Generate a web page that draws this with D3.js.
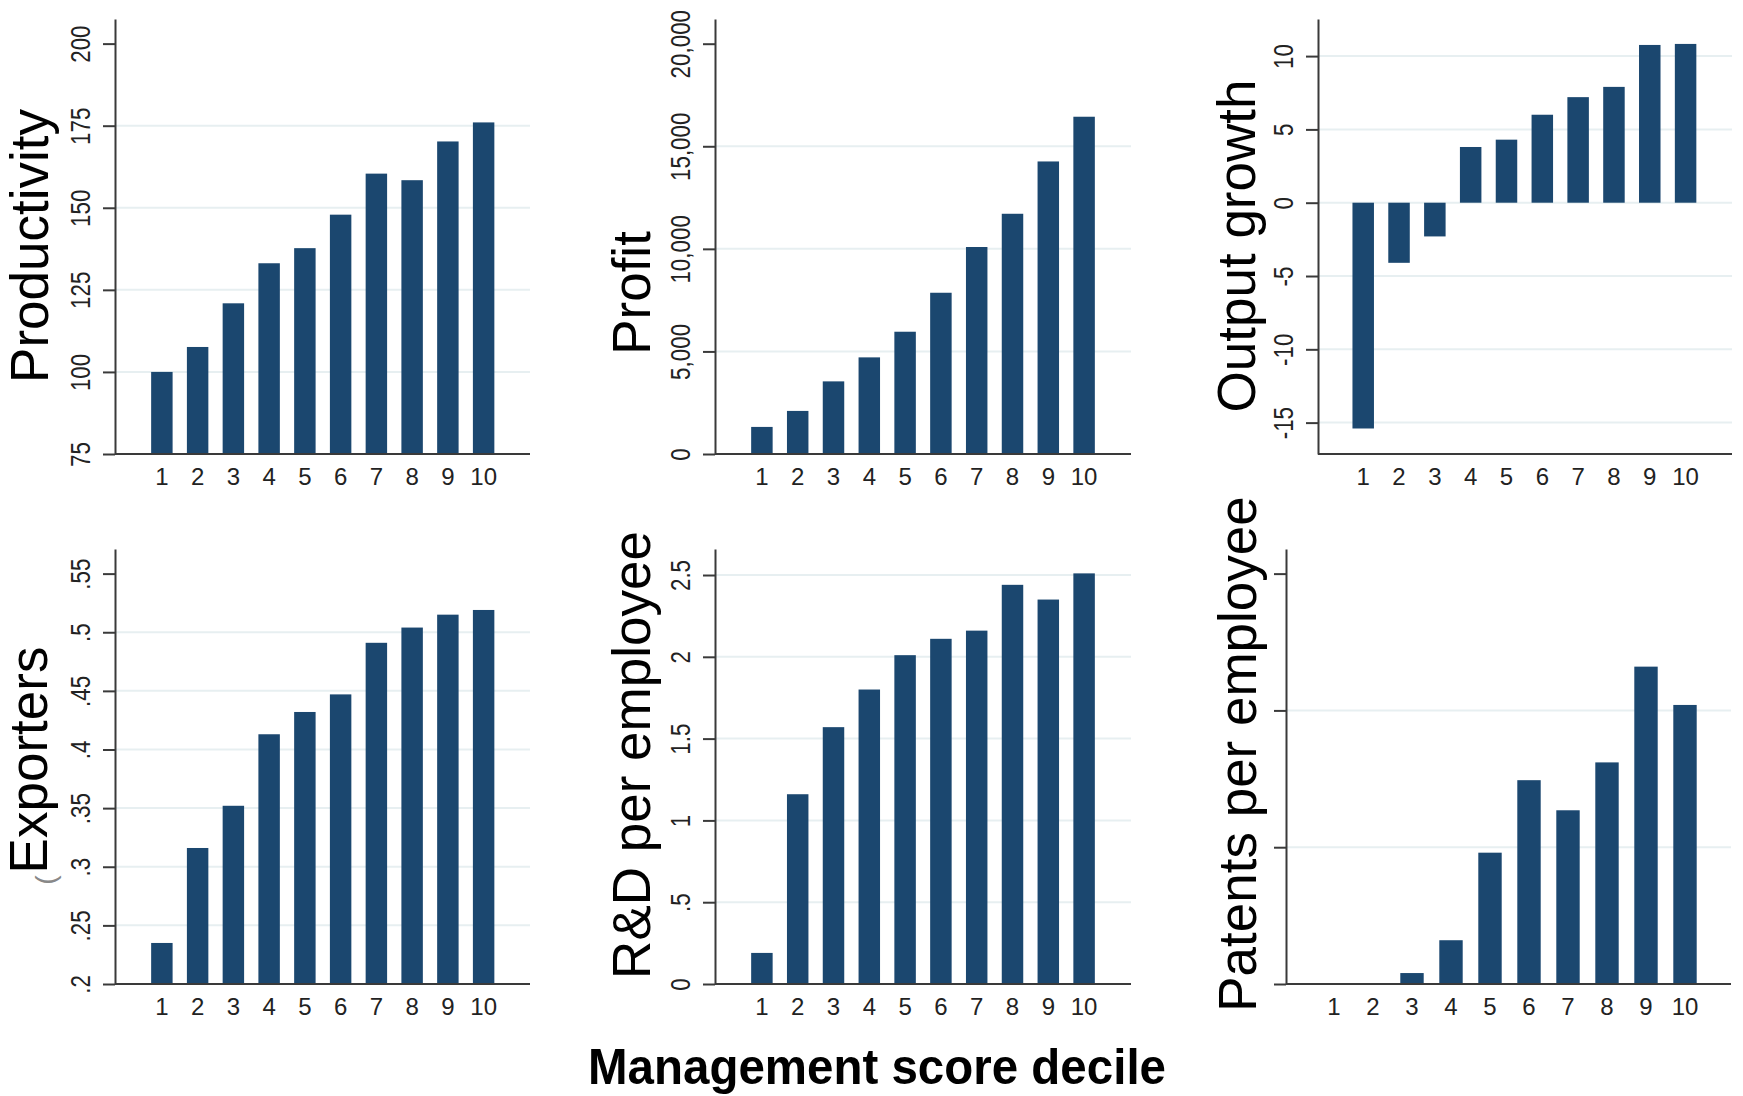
<!DOCTYPE html>
<html>
<head>
<meta charset="utf-8">
<script src="https://cdn.jsdelivr.net/npm/d3@7"></script>
<style>
  body { margin: 0; background: #fff; }
  svg text { font-family: "Liberation Sans", Arial, Helvetica, sans-serif; }
</style>
</head>
<body>
<svg id="chart" width="1743" height="1096"></svg>
<script>
// data
const deciles = [1, 2, 3, 4, 5, 6, 7, 8, 9, 10];

const productivity = [100, 107.6, 120.9, 133.1, 137.7, 147.9, 160.4, 158.4, 170.2, 176.0];
const profit = [1320, 2100, 3540, 4710, 5960, 7860, 10090, 11710, 14260, 16440];
const outputGrowth = [-15.4, -4.1, -2.3, 3.8, 4.3, 6.0, 7.2, 7.9, 10.76, 10.83];
const exporters = [0.235, 0.316, 0.352, 0.413, 0.432, 0.447, 0.491, 0.504, 0.515, 0.519];
const rdPerEmployee = [0.19, 1.16, 1.57, 1.80, 2.01, 2.11, 2.16, 2.44, 2.35, 2.51];
const patentsPerEmployee = [0, 0, 0.08, 0.32, 0.96, 1.49, 1.27, 1.62, 2.32, 2.04];

const productivityTicks = [75, 100, 125, 150, 175, 200];
const productivityLabels = ["75", "100", "125", "150", "175", "200"];
const profitTicks = [0, 5000, 10000, 15000, 20000];
const profitLabels = ["0", "5,000", "10,000", "15,000", "20,000"];
const growthTicks = [-15, -10, -5, 0, 5, 10];
const growthLabels = ["-15", "-10", "-5", "0", "5", "10"];
const exportersTicks = [0.2, 0.25, 0.3, 0.35, 0.4, 0.45, 0.5, 0.55];
const exportersLabels = [".2", ".25", ".3", ".35", ".4", ".45", ".5", ".55"];
const rdTicks = [0, 0.5, 1, 1.5, 2, 2.5];
const rdLabels = ["0", ".5", "1", "1.5", "2", "2.5"];
const patentsTicks = [0, 1, 2, 3];
const patentsLabels = ["", "", "", ""];

const xTitle = "Management score decile";

// panel layout (pixels)
const panels = [
  { title: "Productivity", values: productivity, ticks: productivityTicks, labels: productivityLabels,
    grid: [100, 125, 150, 175], domain: [75, 207.5],
    axisX: 115, xEnd: 530, band: [144, 501.5], top: 19, bottom: 454, titleX: 48, titleY: 246 },
  { title: "Profit", values: profit, ticks: profitTicks, labels: profitLabels,
    grid: [5000, 10000, 15000], domain: [0, 21204],
    axisX: 715, xEnd: 1131, band: [744, 1102], top: 19, bottom: 454, titleX: 650, titleY: 293 },
  { title: "Output growth", values: outputGrowth, ticks: growthTicks, labels: growthLabels,
    grid: [-15, -10, -5, 0, 5, 10], domain: [-17.14, 12.53],
    axisX: 1318, xEnd: 1732, band: [1345.3, 1703.5], top: 19, bottom: 454, titleX: 1255, titleY: 246 },
  { title: "Exporters", values: exporters, ticks: exportersTicks, labels: exportersLabels,
    grid: [0.25, 0.3, 0.35, 0.4, 0.45, 0.5], domain: [0.2, 0.571],
    axisX: 115, xEnd: 530, band: [144, 501.5], top: 549, bottom: 984, titleX: 47, titleY: 760 },
  { title: "R&D per employee", values: rdPerEmployee, ticks: rdTicks, labels: rdLabels,
    grid: [0.5, 1, 1.5, 2, 2.5], domain: [0, 2.659],
    axisX: 715, xEnd: 1131, band: [744, 1102], top: 549, bottom: 984, titleX: 650, titleY: 755 },
  { title: "Patents per employee", values: patentsPerEmployee, ticks: patentsTicks, labels: patentsLabels,
    grid: [1, 2], domain: [0, 3.18],
    axisX: 1286, xEnd: 1731, band: [1314.5, 1704.5], top: 549, bottom: 984, titleX: 1256, titleY: 754 }
];

const barColor = "#1b476f";
const axisColor = "#3a3a3a";
const gridColor = "#e7eff1";
const tickLen = 12;

const svg = d3.select("#chart");

panels.forEach(p => {
  const g = svg.append("g");

  const y = d3.scaleLinear().domain(p.domain).range([p.bottom, p.top]);
  const x = d3.scaleBand().domain(deciles).range(p.band).paddingInner(0.4).paddingOuter(0.2);
  const base = Math.max(p.domain[0], 0);

  // gridlines
  g.selectAll(".grid")
    .data(p.grid)
    .join("line")
    .attr("x1", p.axisX)
    .attr("x2", p.xEnd)
    .attr("y1", d => y(d))
    .attr("y2", d => y(d))
    .attr("stroke", gridColor)
    .attr("stroke-width", 2);

  // bars
  g.selectAll(".bar")
    .data(p.values)
    .join("rect")
    .attr("x", (d, i) => x(deciles[i]))
    .attr("width", x.bandwidth())
    .attr("y", d => y(Math.max(d, base)))
    .attr("height", d => Math.abs(y(d) - y(base)))
    .attr("fill", barColor);

  // y axis
  const yAxis = g.append("g")
    .attr("transform", `translate(${p.axisX},0)`)
    .call(d3.axisLeft(y).tickValues(p.ticks).tickSize(tickLen).tickSizeOuter(0)
      .tickFormat((d, i) => p.labels[i]));
  yAxis.select(".domain").attr("stroke", axisColor).attr("stroke-width", 2);
  yAxis.selectAll(".tick line").attr("stroke", axisColor).attr("stroke-width", 2);
  yAxis.selectAll(".tick text")
    .attr("x", null)
    .attr("dy", null)
    .attr("text-anchor", "middle")
    .attr("transform", `translate(${-(tickLen + 13)},0) rotate(-90) scale(0.83,1)`)
    .attr("font-size", 27)
    .attr("fill", "#222");

  // x axis line
  g.append("line")
    .attr("x1", p.axisX)
    .attr("x2", p.xEnd)
    .attr("y1", p.bottom)
    .attr("y2", p.bottom)
    .attr("stroke", axisColor)
    .attr("stroke-width", 2);

  const xAxis = g.append("g")
    .attr("transform", `translate(0,${p.bottom})`)
    .call(d3.axisBottom(x).tickSize(0).tickPadding(14));
  xAxis.select(".domain").remove();
  xAxis.selectAll(".tick text")
    .attr("font-size", 24)
    .attr("fill", "#222");

  // y title
  g.append("text")
    .attr("transform", `translate(${p.titleX},${p.titleY}) rotate(-90)`)
    .attr("text-anchor", "middle")
    .attr("font-size", 53)
    .attr("fill", "#000")
    .text(p.title);
});

// leftover glyph beside the Exporters title
svg.append("text")
  .attr("transform", "translate(55,880) rotate(-90)")
  .attr("text-anchor", "middle")
  .attr("font-size", 28)
  .attr("fill", "#888")
  .text("(");

// common x title
svg.append("text")
  .attr("transform", "translate(877,1084) scale(0.95,1)")
  .attr("text-anchor", "middle")
  .attr("font-size", 50)
  .attr("font-weight", "bold")
  .attr("fill", "#000")
  .text(xTitle);
</script>
</body>
</html>
